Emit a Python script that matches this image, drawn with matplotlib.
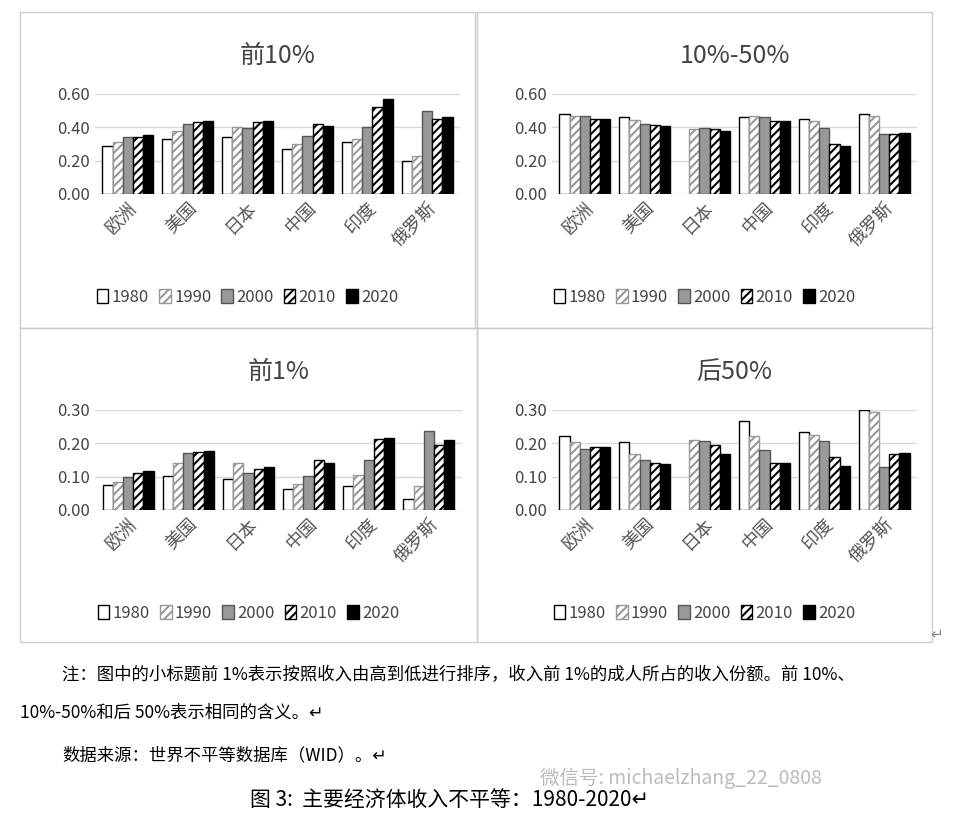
import matplotlib
matplotlib.use("Agg")
import matplotlib.pyplot as plt
import numpy as np
from matplotlib.patches import Rectangle

plt.rcParams['font.family'] = ['Noto Sans CJK SC', 'DejaVu Sans']
plt.rcParams['hatch.linewidth'] = 1.5

countries = ["欧洲", "美国", "日本", "中国", "印度", "俄罗斯"]
years = ["1980", "1990", "2000", "2010", "2020"]
nan = np.nan
top10 = [[.29,.31,.34,.345,.355],[.33,.38,.42,.43,.435],[.34,.40,.395,.43,.435],
         [.27,.30,.35,.42,.41],[.31,.33,.40,.52,.57],[.20,.23,.50,.45,.46]]
mid40 = [[.48,.47,.465,.45,.45],[.46,.445,.42,.415,.41],[nan,.39,.395,.39,.38],
         [.46,.465,.46,.44,.44],[.45,.44,.395,.30,.29],[.48,.47,.36,.36,.365]]
top1 = [[.075,.085,.10,.11,.117],[.103,.142,.172,.175,.178],[.092,.142,.11,.123,.128],
        [.063,.078,.103,.15,.14],[.073,.105,.15,.212,.217],[.033,.073,.237,.195,.21]]
bot50 = [[.223,.205,.183,.188,.188],[.205,.169,.15,.142,.137],[nan,.211,.206,.195,.167],
         [.268,.223,.180,.142,.142],[.234,.225,.206,.16,.131],[.33,.295,.128,.168,.17]]

styles = [dict(facecolor='white', hatch=None, edgecolor='black'),
          dict(facecolor='white', hatch='////', edgecolor='#999999'),
          dict(facecolor='#999999', hatch=None, edgecolor='#555555'),
          dict(facecolor='white', hatch='////', edgecolor='black'),
          dict(facecolor='black', hatch=None, edgecolor='black')]

W, H = 960, 826
fig = plt.figure(figsize=(W/100, H/100), dpi=100)
fig.patch.set_facecolor('white')

panels = [("前10%", top10, 0.6, [0,.2,.4,.6], (20, 12, 455, 316)),
          ("10%-50%", mid40, 0.6, [0,.2,.4,.6], (477, 12, 455, 316)),
          ("前1%", top1, 0.3, [0,.1,.2,.3], (20, 328, 457, 314)),
          ("后50%", bot50, 0.3, [0,.1,.2,.3], (477, 328, 455, 314))]

for title, data, ymax, ticks, (px, py, pw, ph) in panels:
    fig.patches.append(Rectangle((px/W, 1-(py+ph)/H), pw/W, ph/H, transform=fig.transFigure,
                                 fill=False, edgecolor='#cccccc', lw=1))
    ax = fig.add_axes([(px+75)/W, 1-(py+182)/H, (pw-90)/W, 100/H])
    arr = np.array(data)
    x = np.arange(len(countries))
    bw = 0.17
    for j in range(5):
        st = styles[j]
        ax.bar(x + (j-2)*bw, np.minimum(arr[:, j], ymax), bw, facecolor=st['facecolor'],
               hatch=st['hatch'], edgecolor=st['edgecolor'], linewidth=1,
               label=years[j])
    ax.set_ylim(0, ymax)
    ax.set_xlim(-0.55, 5.55)
    ax.set_yticks(ticks)
    ax.set_yticklabels([f"{t:.2f}" for t in ticks], fontsize=12, color='#444444')
    ax.yaxis.grid(True, color='#d9d9d9', lw=1)
    ax.set_axisbelow(True)
    for s in ax.spines.values():
        s.set_visible(False)
    ax.tick_params(length=0)
    ax.set_xticks(x)
    ax.set_xticklabels(countries, rotation=45, ha='right', rotation_mode='anchor',
                       fontsize=13, color='#555555')
    ax.set_title(title, fontsize=18, color='#444444', pad=22)
    fig.legend(*ax.get_legend_handles_labels(), loc='center',
               bbox_to_anchor=((px+pw/2)/W, 1-(py+285)/H), ncol=5, frameon=False,
               fontsize=12, handlelength=0.7, handleheight=0.9, handletextpad=0.2,
               columnspacing=0.6, labelcolor='#444444')

fig.text(930/W, 1-638/H, "↵", fontsize=11, color='#888888')
fig.text(62/W, 1-675/H, "注：图中的小标题前 1%表示按照收入由高到低进行排序，收入前 1%的成人所占的收入份额。前 10%、",
         fontsize=12.5, va='center')
fig.text(20/W, 1-713/H, "10%-50%和后 50%表示相同的含义。↵", fontsize=12.5, va='center')
fig.text(62/W, 1-755/H, "数据来源：世界不平等数据库（WID）。↵", fontsize=12.5, va='center')
fig.text(540/W, 1-778/H, "微信号: michaelzhang_22_0808", fontsize=14, color='#bbbbbb', va='center')
fig.text(250/W, 1-800/H, "图 3:  主要经济体收入不平等：1980-2020↵", fontsize=15, va='center')

fig.savefig("out.png", dpi=100)
